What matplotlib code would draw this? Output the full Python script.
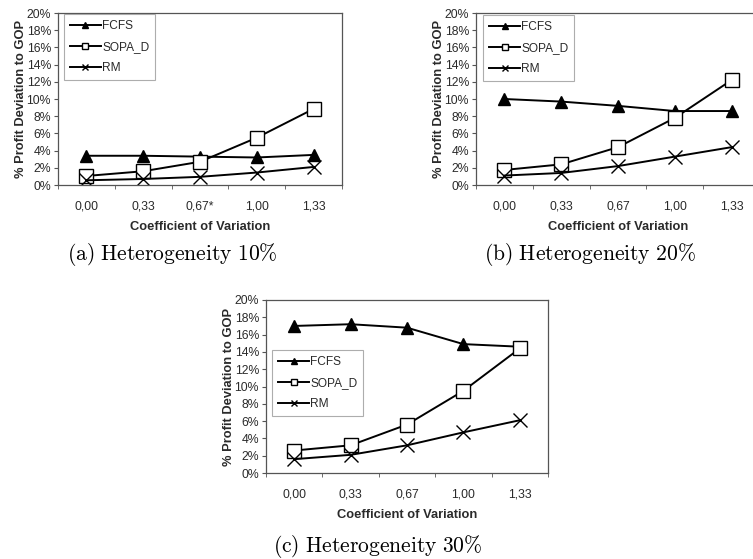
import numpy as np
import matplotlib
matplotlib.use("Agg")
import matplotlib.pyplot as plt
from matplotlib.ticker import FixedLocator

# ---- data ----
cv_labels_a = ["0,00", "0,33", "0,67*", "1,00", "1,33"]
cv_labels = ["0,00", "0,33", "0,67", "1,00", "1,33"]

fcfs_10 = [3.4, 3.4, 3.3, 3.2, 3.5]
sopa_10 = [1.05, 1.6, 2.7, 5.5, 8.85]
rm_10 = [0.55, 0.7, 0.95, 1.45, 2.1]

fcfs_20 = [10.0, 9.7, 9.2, 8.6, 8.6]
sopa_20 = [1.75, 2.4, 4.4, 7.8, 12.2]
rm_20 = [1.1, 1.4, 2.2, 3.3, 4.4]

fcfs_30 = [17.0, 17.2, 16.8, 14.9, 14.6]
sopa_30 = [2.6, 3.2, 5.6, 9.5, 14.4]
rm_30 = [1.6, 2.1, 3.2, 4.7, 6.1]

captions = ["(a) Heterogeneity 10%", "(b) Heterogeneity 20%", "(c) Heterogeneity 30%"]
series_names = ["FCFS", "SOPA_D", "RM"]

W, H = 753, 559
fig = plt.figure(figsize=(W / 100, H / 100), dpi=100)
plt.rcParams['font.family'] = ['Liberation Sans', 'DejaVu Sans']
plt.rcParams['mathtext.fontset'] = 'cm'

TXT = '#2a2a2a'


def px_axes(left, top, right, bottom):
    return fig.add_axes([left / W, 1 - bottom / H, (right - left) / W, (bottom - top) / H])


def draw_panel(ax, labels, fcfs, sopa, rm, leg_box):
    x = np.arange(len(labels))
    ax.plot(x, fcfs, color='black', lw=1.4, marker='^', ms=8.5, mfc='black', mec='black', label=series_names[0])
    ax.plot(x, sopa, color='black', lw=1.4, marker='s', ms=10, mfc='white', mec='black', mew=1.0, label=series_names[1])
    ax.plot(x, rm, color='black', lw=1.4, marker='x', ms=10, mew=1.0, label=series_names[2])
    ax.set_xlim(-0.5, len(labels) - 0.5)
    ax.set_ylim(0, 20)
    ax.set_yticks(np.arange(0, 21, 2))
    ax.set_yticklabels([f"{v}%" for v in range(0, 21, 2)], fontsize=8.8, color=TXT)
    ax.set_xticks(x)
    ax.set_xticklabels(labels, fontsize=8.8, color=TXT)
    ax.tick_params(axis='x', which='major', length=0, pad=11)
    ax.xaxis.set_minor_locator(FixedLocator(np.arange(-0.5, len(labels), 1.0)))
    ax.tick_params(axis='x', which='minor', length=3, direction='out', color='#555555')
    ax.tick_params(axis='y', length=3, direction='out', color='#555555', pad=2)
    for s in ax.spines.values():
        s.set_color('#555555')
        s.set_linewidth(0.9)
    ax.set_ylabel("% Profit Deviation to GOP", fontsize=9.3, fontweight='bold', color=TXT, labelpad=0)
    ax.set_xlabel("Coefficient of Variation", fontsize=9.3, fontweight='bold', color=TXT, labelpad=6)
    lx, ly = leg_box
    leg = ax.legend(loc='upper left', bbox_to_anchor=(lx / W, 1 - ly / H), bbox_transform=fig.transFigure,
                    fontsize=8.6, frameon=True, fancybox=False, markerscale=0.5, handlelength=2.6,
                    handletextpad=0.1, labelspacing=0.75, borderpad=0.5, borderaxespad=0)
    leg.get_frame().set_edgecolor('#999999')
    leg.get_frame().set_linewidth(0.8)
    for t in leg.get_texts():
        t.set_color(TXT)


ax_a = px_axes(58, 13, 342, 185)
draw_panel(ax_a, cv_labels_a, fcfs_10, sopa_10, rm_10, (64, 14))

ax_b = px_axes(476, 13, 760, 185)
draw_panel(ax_b, cv_labels, fcfs_20, sopa_20, rm_20, (483, 15))

ax_c = px_axes(266, 300, 548, 473)
draw_panel(ax_c, cv_labels, fcfs_30, sopa_30, rm_30, (272, 350))


def as_cm(s):
    # Computer Modern look for the LaTeX captions
    return "$\\mathrm{" + s.replace(" ", "\\ ").replace("%", "\\%") + "}$"


cap_kw = dict(fontsize=15.5, ha='center', va='center')
fig.text(172 / W, 1 - 255 / H, as_cm(captions[0]), **cap_kw)
fig.text(590 / W, 1 - 255 / H, as_cm(captions[1]), **cap_kw)
fig.text(378 / W, 1 - 547 / H, as_cm(captions[2]), **cap_kw)

fig.savefig("out.png", dpi=100)
